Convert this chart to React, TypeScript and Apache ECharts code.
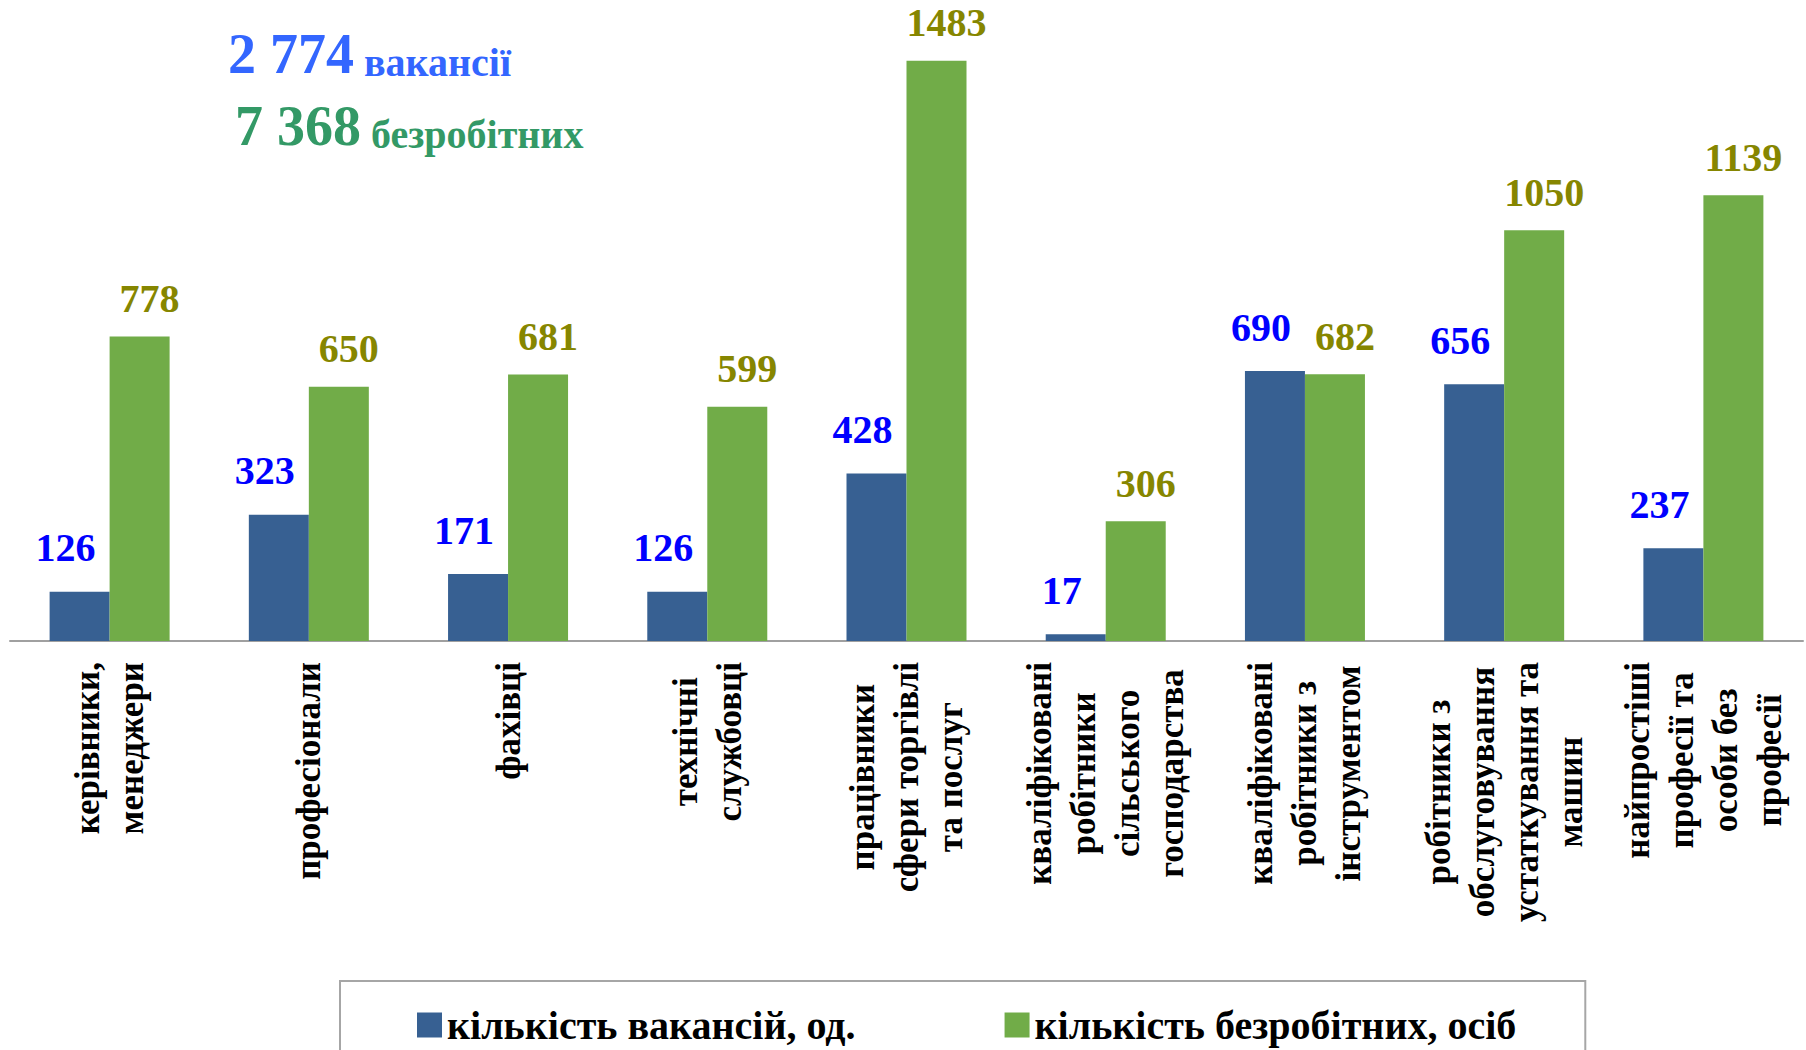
import React, { useEffect, useRef } from "react";
import * as echarts from "echarts";

const categories: string[] = [
  "керівники,\nменеджери",
  "професіонали",
  "фахівці",
  "технічні\nслужбовці",
  "працівники\nсфери торгівлі\nта послуг",
  "кваліфіковані\nробітники\nсільського\nгосподарства",
  "кваліфіковані\nробітники з\nінструментом",
  "робітники з\nобслуговування\nустаткування та\nмашин",
  "найпростіші\nпрофесії та\nособи без\nпрофесії",
];
const vacancies: number[] = [126, 323, 171, 126, 428, 17, 690, 656, 237];
const unemployed: number[] = [778, 650, 681, 599, 1483, 306, 682, 1050, 1139];
const seriesNames: string[] = ["кількість вакансій, од.", "кількість безробітних, осіб"];
const summaryWords: string[] = ["вакансії", "безробітних"];

const SERIF = "'Liberation Serif', 'Times New Roman', serif";

const fmt = (n: number) => String(n).replace(/\B(?=(\d{3})+(?!\d))/g, " ");

export default function App() {
  const ref = useRef<HTMLDivElement>(null);
  useEffect(() => {
    if (!ref.current) return;
    const chart = echarts.init(ref.current, null, { renderer: "svg" });
    const totalV = vacancies.reduce((a, b) => a + b, 0);
    const totalU = unemployed.reduce((a, b) => a + b, 0);
    const summary = (total: number, word: string, color: string) => ({
      text: `{n|${fmt(total)}}{w|\u00a0${word}}`,
      rich: {
        n: { fontSize: 56, fontWeight: "bold", fontFamily: SERIF, fill: color, verticalAlign: "bottom", lineHeight: 60 },
        w: { fontSize: 40, fontWeight: "bold", fontFamily: SERIF, fill: color, verticalAlign: "bottom", lineHeight: 60 },
      },
    });
    chart.setOption({
      animation: false,
      backgroundColor: "#ffffff",
      grid: { left: 10, right: 3, top: 15, bottom: 409 },
      xAxis: {
        type: "category",
        data: categories,
        axisLine: { show: true, lineStyle: { color: "#a0a0a0", width: 2 } },
        axisTick: { show: false },
        axisLabel: {
          interval: 0,
          rotate: 90,
          margin: 21,
          formatter: (v: string) =>
            v
              .split("\n")
              .map((l) => `{c|${l}}`)
              .join("\n"),
          rich: {
            c: {
              align: "center",
              fontSize: 35,
              fontWeight: "bold",
              fontFamily: SERIF,
              color: "#000000",
              lineHeight: 44,
            },
          },
        },
      },
      yAxis: {
        type: "value",
        min: 0,
        max: 1600,
        show: false,
        splitLine: { show: false },
      },
      legend: {
        left: 340,
        top: 981,
        padding: [24, 69, 60, 77],
        itemGap: 149,
        itemWidth: 25,
        itemHeight: 25,
        borderColor: "#a6a6a6",
        borderWidth: 2,
        icon: "rect",
        textStyle: {
          fontSize: 40,
          fontWeight: "bold",
          fontFamily: SERIF,
          color: "#000000",
        },
        data: seriesNames,
      },
      series: [
        {
          name: seriesNames[0],
          type: "bar",
          data: vacancies,
          barWidth: 60,
          barGap: "0%",
          itemStyle: { color: "#376092" },
          label: {
            show: true,
            position: "top",
            distance: 24,
            offset: [-14, 0],
            fontSize: 40,
            fontWeight: "bold",
            fontFamily: SERIF,
            color: "#0000ff",
          },
        },
        {
          name: seriesNames[1],
          type: "bar",
          data: unemployed,
          barWidth: 60,
          barGap: "0%",
          itemStyle: { color: "#71ac48" },
          label: {
            show: true,
            position: "top",
            distance: 18,
            offset: [10, 0],
            fontSize: 40,
            fontWeight: "bold",
            fontFamily: SERIF,
            color: "#868600",
          },
        },
      ],
      graphic: [
        { type: "text", left: 228, top: 26, style: summary(totalV, summaryWords[0], "#3366ff") },
        { type: "text", left: 235, top: 98, style: summary(totalU, summaryWords[1], "#339966") },
      ],
    });
    return () => chart.dispose();
  }, []);
  return (
    <div
      ref={ref}
      style={{ position: "absolute", left: 0, top: 0, width: 1806, height: 1050 }}
    />
  );
}
